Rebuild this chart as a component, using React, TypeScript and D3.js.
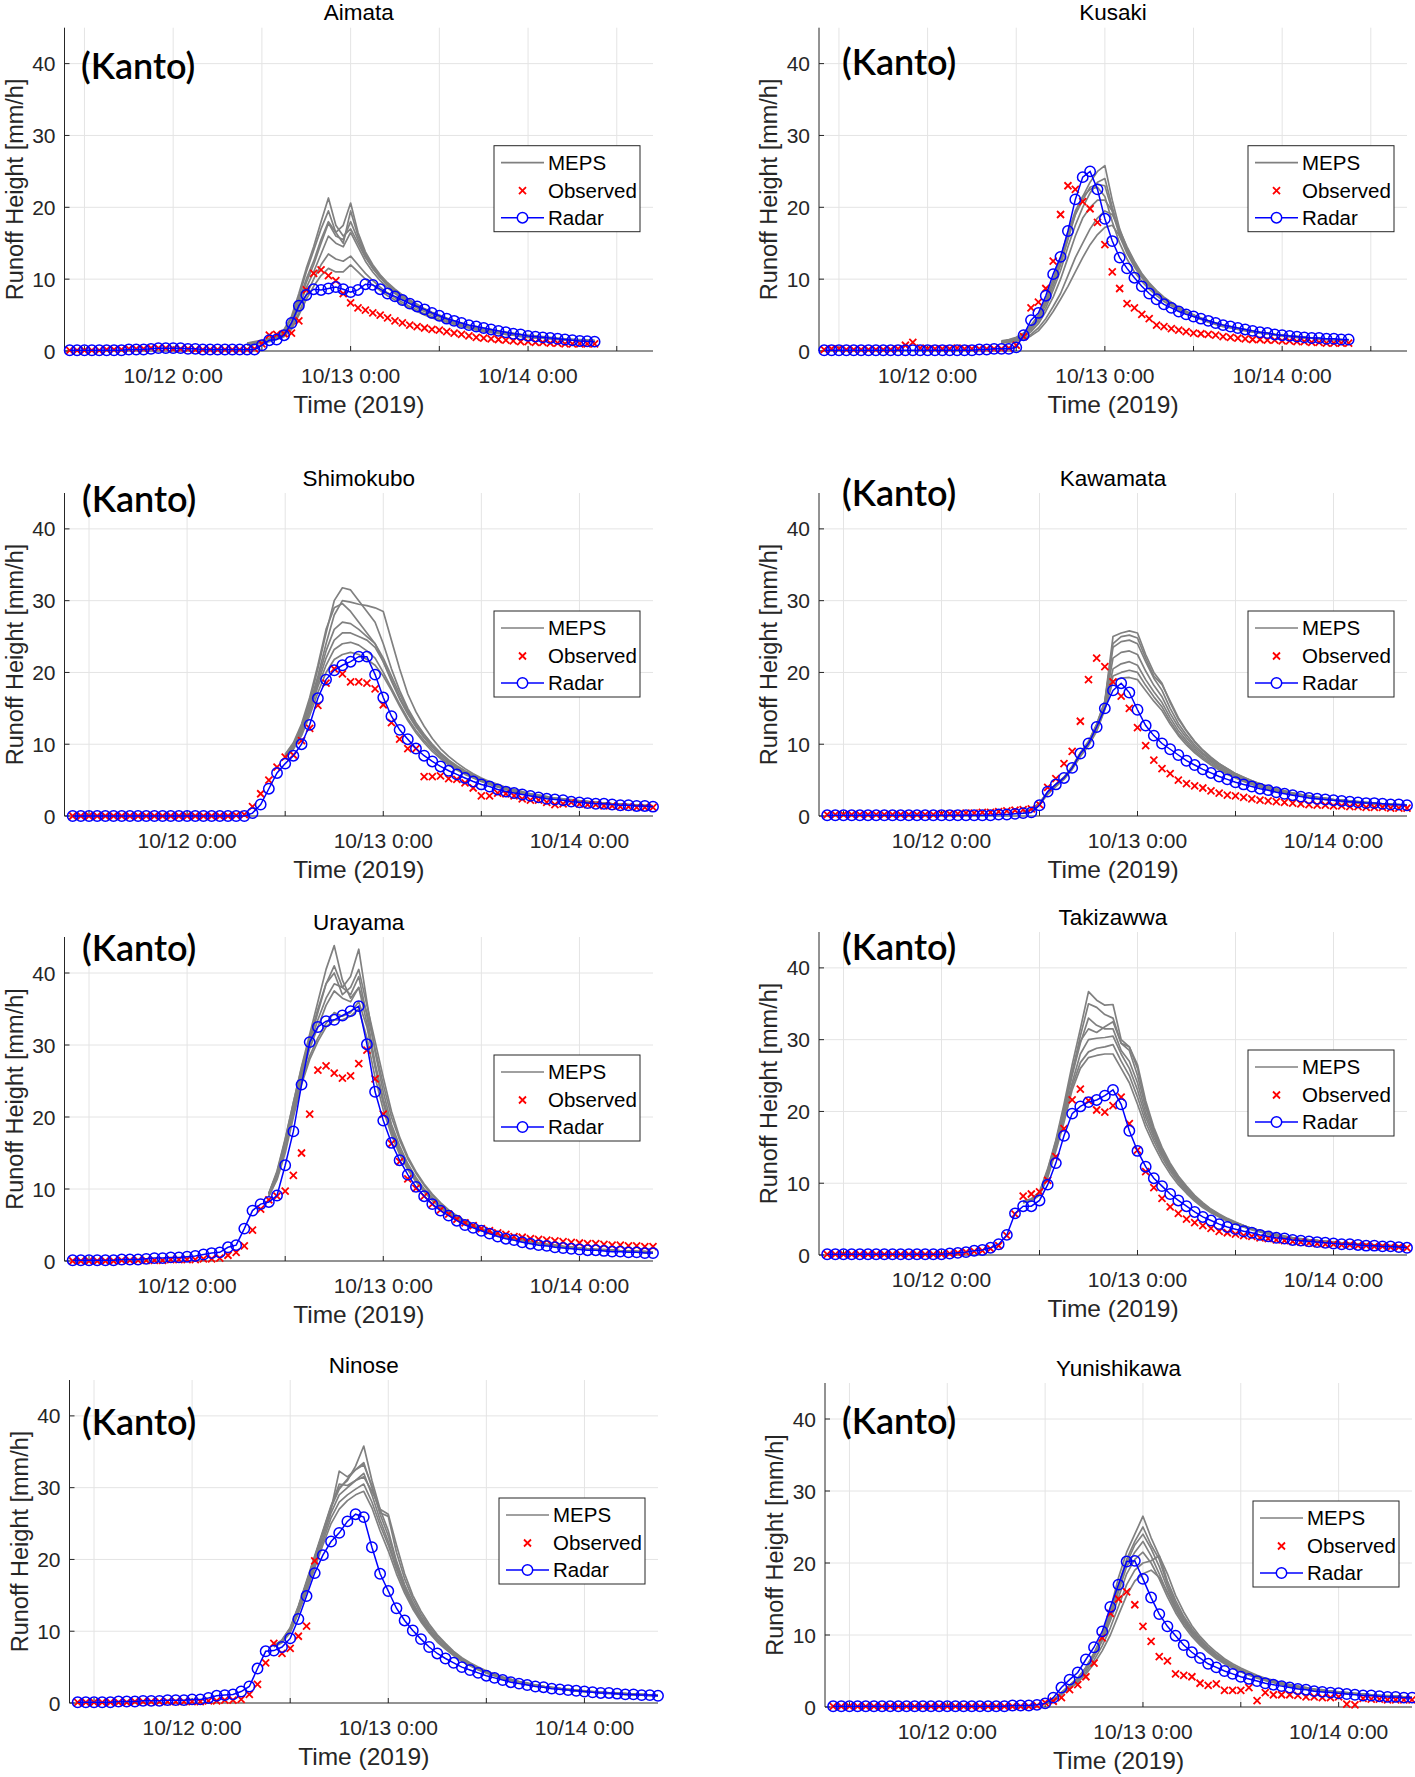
import React, { useEffect, useRef } from "react";
import * as d3 from "d3";

const W = 1415;
const H = 1777;

// hourly samples, first one is 10/11 10:00
const START = new Date(2019, 9, 11, 10);
const hourToDate = (h: number) => new Date(START.getTime() + h * 3600 * 1000);

const yTicks = [0, 10, 20, 30, 40];

// ---- Aimata ----
const radarAimata = [0.1,0.1,0.1,0.1,0.1,0.1,0.1,0.1,0.2,0.2, 0.2,0.3,0.4,0.4,0.4,0.4,0.3,0.3,0.2,0.2, 0.2,0.2,0.2,0.2,0.2,0.2,0.8,1.5,1.6,2.2, 3.9,6.3,7.8,8.6,8.5,8.7,8.9,8.6,8.2,8.5, 9.3,9.2,8.6,8.0,7.6,7.1,6.6,6.2,5.8,5.3, 4.9,4.5,4.2,3.9,3.6,3.4,3.2,3.0,2.8,2.6, 2.4,2.3,2.1,2.0,1.9,1.8,1.7,1.6,1.5,1.4, 1.35,1.3];
const obsAimata = [0.1,0.1,0.1,0.1,0.1,0.2,0.2,0.2,0.3,0.3, 0.3,0.4,0.4,0.4,0.3,0.3,0.3,0.2,0.2,0.2, 0.2,0.2,0.2,0.2,0.2,0.3,1.0,2.2,2.3,2.4, 2.5,4.2,8.5,10.8,11.3,10.5,9.8,8.0,6.7,6.0, 5.7,5.3,5.0,4.6,4.2,3.9,3.6,3.4,3.2,3.0, 2.9,2.7,2.5,2.3,2.1,1.9,1.8,1.7,1.6,1.5, 1.4,1.3,1.3,1.2,1.2,1.1,1.1,1.0,1.0,1.0, 1.0,1.0];
const mepsAimata = [
  [1.0,1.2,1.4,1.7,2.1,3.0,4.8,8.0,11.5,14.5,18.0, 21.3,17.5,16.0,17.0,15.0,13.0,11.5,10.3,9.3,8.4, 7.6,6.9,6.3,5.8,5.3,4.9,4.5,4.1,3.8,3.5, 3.3,3.1,2.9,2.7,2.5,2.4,2.3,2.1,2.0,1.9, 1.8,1.7,1.7,1.6,1.5,1.5,1.4],
  [1.1,1.3,1.5,1.8,2.0,2.6,4.0,7.0,10.0,12.5,15.5, 18.0,16.5,17.5,20.6,16.5,13.8,12.0,10.6,9.5,8.6, 7.8,7.1,6.5,5.9,5.4,5.0,4.6,4.2,3.9,3.6, 3.4,3.2,3.0,2.8,2.6,2.5,2.3,2.2,2.1,2.0, 1.9,1.8,1.7,1.6,1.6,1.5,1.5],
  [1.0,1.1,1.3,1.6,1.9,2.5,3.8,6.5,9.5,12.0,15.0, 17.8,16.0,15.5,18.0,15.5,13.2,11.5,10.2,9.1,8.2, 7.5,6.8,6.2,5.7,5.2,4.8,4.4,4.0,3.7,3.4, 3.2,3.0,2.8,2.6,2.5,2.3,2.2,2.1,2.0,1.9, 1.8,1.7,1.6,1.6,1.5,1.4,1.4],
  [0.9,1.0,1.2,1.5,1.8,2.3,3.5,6.0,8.8,11.0,13.5, 16.0,15.0,14.5,16.5,14.5,12.5,11.0,9.8,8.8,8.0, 7.3,6.6,6.0,5.5,5.1,4.7,4.3,3.9,3.6,3.4, 3.1,2.9,2.7,2.6,2.4,2.3,2.2,2.0,1.9,1.8, 1.8,1.7,1.6,1.5,1.5,1.4,1.3],
  [0.9,1.0,1.2,1.4,1.7,2.1,3.2,5.3,7.8,10.0,12.0, 13.5,12.8,12.5,13.2,12.0,10.8,9.8,8.9,8.1,7.4, 6.8,6.2,5.7,5.2,4.8,4.4,4.1,3.8,3.5,3.2, 3.0,2.8,2.6,2.5,2.3,2.2,2.1,2.0,1.9,1.8, 1.7,1.6,1.6,1.5,1.4,1.4,1.3],
  [0.8,0.9,1.1,1.3,1.6,2.0,3.0,5.0,7.2,9.0,10.5, 11.5,11.0,11.0,12.0,11.0,10.0,9.2,8.4,7.7,7.1, 6.5,6.0,5.5,5.0,4.6,4.3,4.0,3.7,3.4,3.2, 2.9,2.7,2.6,2.4,2.3,2.2,2.0,1.9,1.8,1.8, 1.7,1.6,1.5,1.5,1.4,1.4,1.3],
  [1.0,1.2,1.4,1.7,2.0,2.8,4.5,7.5,11.0,14.0,17.0, 19.5,16.5,15.0,19.5,16.0,13.5,11.8,10.5,9.4,8.5, 7.7,7.0,6.4,5.8,5.3,4.9,4.5,4.1,3.8,3.5, 3.3,3.1,2.9,2.7,2.6,2.4,2.3,2.1,2.0,1.9, 1.8,1.7,1.7,1.6,1.5,1.5,1.4],
];

// ---- Kusaki ----
const radarKusaki = [0.1,0.1,0.1,0.1,0.1,0.1,0.1,0.1,0.1,0.1, 0.1,0.1,0.1,0.1,0.1,0.1,0.1,0.1,0.1,0.1, 0.1,0.2,0.2,0.3,0.3,0.3,0.5,2.2,4.3,5.3, 7.7,10.7,13.1,16.7,21.1,24.2,25.0,22.5,18.4,15.3, 13.0,11.5,10.2,9.0,8.0,7.2,6.5,6.0,5.5,5.1, 4.8,4.5,4.2,3.9,3.6,3.4,3.2,3.0,2.8,2.6, 2.5,2.3,2.2,2.1,2.0,1.9,1.8,1.8,1.7,1.7, 1.6,1.6];
const obsKusaki = [0.2,0.3,0.3,0.2,0.2,0.2,0.2,0.2,0.2,0.2, 0.3,0.8,1.2,0.4,0.3,0.3,0.3,0.3,0.4,0.3, 0.3,0.3,0.3,0.3,0.3,0.4,0.8,2.0,6.0,6.8, 8.7,12.5,19.0,23.0,22.5,20.8,19.8,17.9,14.8,11.0, 8.7,6.6,6.0,5.1,4.5,3.6,3.4,3.1,2.9,2.7, 2.5,2.4,2.3,2.2,2.0,1.9,1.8,1.7,1.6,1.6, 1.5,1.5,1.4,1.4,1.3,1.3,1.2,1.2,1.1,1.1, 1.1,1.1];
const mepsKusaki = [
  [1.3,1.5,1.7,2.2,3.2,4.5,6.5,9.0,12.0,15.5,19.0, 21.5,23.5,25.0,25.8,21.0,17.0,14.3,12.3,10.7,9.4, 8.3,7.4,6.7,6.0,5.5,5.0,4.6,4.2,3.9,3.6, 3.4,3.2,3.0,2.8,2.6,2.5,2.3,2.2,2.1,2.0, 1.9,1.8,1.7,1.7,1.6,1.6,1.5],
  [1.3,1.4,1.6,2.0,3.0,4.2,6.0,8.5,11.2,14.5,17.5, 20.0,22.0,23.5,24.0,20.0,16.5,14.0,12.0,10.5,9.2, 8.1,7.3,6.6,5.9,5.4,4.9,4.5,4.1,3.8,3.5, 3.3,3.1,2.9,2.7,2.5,2.4,2.3,2.2,2.1,2.0, 1.9,1.8,1.7,1.6,1.6,1.5,1.5],
  [1.4,1.6,1.9,2.5,3.6,5.0,7.2,10.0,13.0,16.5,19.5, 21.5,22.5,22.8,21.5,18.0,15.0,12.8,11.0,9.7,8.6, 7.7,6.9,6.3,5.7,5.2,4.8,4.4,4.0,3.7,3.4, 3.2,3.0,2.8,2.7,2.5,2.4,2.2,2.1,2.0,1.9, 1.8,1.8,1.7,1.6,1.6,1.5,1.5],
  [1.2,1.3,1.5,1.9,2.7,3.8,5.5,7.5,10.0,13.0,16.0, 18.5,20.0,21.0,21.0,19.5,16.5,14.0,12.0,10.4,9.2, 8.2,7.3,6.6,6.0,5.4,5.0,4.5,4.2,3.8,3.5, 3.3,3.1,2.9,2.7,2.6,2.4,2.3,2.2,2.1,2.0, 1.9,1.8,1.7,1.7,1.6,1.5,1.5],
  [1.2,1.3,1.4,1.7,2.3,3.2,4.5,6.2,8.0,10.5,13.0, 15.0,17.0,18.5,19.5,19.0,16.8,14.5,12.5,10.8,9.5, 8.4,7.5,6.8,6.1,5.5,5.0,4.6,4.2,3.9,3.6, 3.4,3.1,2.9,2.8,2.6,2.5,2.3,2.2,2.1,2.0, 1.9,1.8,1.8,1.7,1.6,1.6,1.5],
  [1.1,1.2,1.4,1.6,2.1,2.8,4.0,5.5,7.2,9.0,11.0, 13.0,14.8,16.2,17.2,17.5,16.0,14.0,12.2,10.6,9.3, 8.2,7.4,6.7,6.0,5.5,5.0,4.6,4.2,3.9,3.6, 3.3,3.1,2.9,2.7,2.6,2.4,2.3,2.2,2.1,2.0, 1.9,1.8,1.7,1.7,1.6,1.5,1.5],
  [1.3,1.5,1.8,2.3,3.4,4.8,6.8,9.5,12.5,16.0,19.0, 21.0,22.8,23.2,23.0,19.5,16.0,13.6,11.7,10.2,9.0, 8.0,7.2,6.5,5.9,5.3,4.9,4.5,4.1,3.8,3.5, 3.3,3.1,2.9,2.7,2.5,2.4,2.3,2.1,2.0,1.9, 1.9,1.8,1.7,1.6,1.6,1.5,1.5],
];

// ---- Shimokubo ----
const radarShimokubo = [0,0,0,0,0,0,0,0,0,0, 0,0,0,0,0,0,0,0,0,0, 0,0,0.4,1.6,3.8,6.0,7.3,8.4,10.0,12.7, 16.4,19.0,20.3,21.0,21.5,22.2,22.2,19.7,16.5,13.9, 12.0,10.7,9.4,8.4,7.6,6.9,6.3,5.8,5.3,4.8, 4.4,4.1,3.7,3.4,3.2,3.0,2.8,2.6,2.4,2.3, 2.2,2.0,1.9,1.8,1.7,1.7,1.6,1.5,1.5,1.4, 1.4,1.3];
const obsShimokubo = [0,0,0,0,0,0,0,0,0,0, 0,0,0,0,0,0,0,0,0,0, 0.1,0.2,1.3,3.1,5.0,6.8,8.2,8.5,10.5,12.2, 15.4,18.5,20.5,19.8,18.7,18.7,18.5,17.7,15.5,13.0, 10.7,9.4,9.4,5.5,5.5,5.6,5.2,5.1,4.6,3.9, 2.8,2.8,3.2,3.1,2.8,2.4,2.2,2.2,1.9,1.6, 1.7,1.9,1.7,1.6,1.6,1.4,1.4,1.3,1.3,1.2, 1.2,1.2];
const mepsShimokubo = [
  [8.5,10.0,12.5,16.0,20.5,25.5,30.0,31.8,31.5,30.0, 28.5,27.0,24.0,20.5,17.5,15.0,13.0,11.4,10.0,8.8, 7.8,7.0,6.3,5.7,5.2,4.7,4.3,3.9,3.6,3.3, 3.1,2.9,2.7,2.5,2.4,2.2,2.1,2.0,1.9,1.8, 1.7,1.7,1.6,1.5,1.5,1.4],
  [8.5,10.0,12.3,15.5,19.5,24.0,28.0,30.0,29.8,29.5, 29.3,29.0,28.5,24.5,20.5,17.0,14.5,12.5,10.8,9.4, 8.3,7.4,6.6,5.9,5.3,4.8,4.4,4.0,3.7,3.4, 3.1,2.9,2.7,2.5,2.4,2.3,2.1,2.0,1.9,1.8, 1.7,1.7,1.6,1.5,1.5,1.4],
  [8.3,9.8,12.0,15.0,19.0,23.0,26.0,27.0,26.8,26.0, 25.0,24.0,22.0,19.5,17.0,14.8,12.9,11.3,9.9,8.7, 7.7,6.9,6.2,5.6,5.1,4.6,4.2,3.9,3.5,3.3, 3.0,2.8,2.6,2.5,2.3,2.2,2.1,2.0,1.9,1.8, 1.7,1.6,1.6,1.5,1.4,1.4],
  [8.2,9.6,11.8,14.8,18.5,22.0,24.5,25.5,25.5,25.0, 24.5,23.5,21.5,19.0,16.5,14.5,12.6,11.0,9.7,8.6, 7.6,6.8,6.1,5.5,5.0,4.6,4.2,3.8,3.5,3.2, 3.0,2.8,2.6,2.4,2.3,2.2,2.1,2.0,1.9,1.8, 1.7,1.6,1.5,1.5,1.4,1.4],
  [8.0,9.5,11.5,14.5,18.0,21.0,23.2,24.0,24.2,23.8, 23.0,22.0,20.0,17.8,15.6,13.6,11.9,10.5,9.3,8.2, 7.3,6.6,5.9,5.4,4.9,4.5,4.1,3.7,3.4,3.2, 2.9,2.7,2.6,2.4,2.3,2.2,2.0,1.9,1.8,1.8, 1.7,1.6,1.5,1.5,1.4,1.3],
  [8.0,9.3,11.2,14.0,17.2,20.0,21.8,22.5,22.8,22.5, 21.8,21.0,19.5,17.5,15.3,13.3,11.6,10.2,9.0,8.0, 7.1,6.4,5.8,5.3,4.8,4.4,4.0,3.7,3.4,3.1, 2.9,2.7,2.5,2.4,2.2,2.1,2.0,1.9,1.8,1.7, 1.7,1.6,1.5,1.4,1.4,1.3],
  [8.6,10.2,12.8,16.5,21.0,26.0,29.0,29.6,28.5,27.0, 25.5,24.0,21.5,18.8,16.3,14.2,12.4,10.9,9.6,8.5, 7.5,6.7,6.0,5.4,4.9,4.5,4.1,3.8,3.4,3.2, 2.9,2.7,2.6,2.4,2.3,2.2,2.0,1.9,1.8,1.8, 1.7,1.6,1.5,1.5,1.4,1.3],
];

// ---- Kawamata ----
const radarKawamata = [0.1,0.1,0.1,0.1,0.1,0.1,0.1,0.1,0.1,0.1, 0.1,0.1,0.1,0.1,0.1,0.1,0.1,0.1,0.1,0.1, 0.1,0.2,0.2,0.3,0.4,0.5,1.5,3.4,4.4,5.3, 6.7,8.7,10.1,12.4,15.0,17.5,18.5,17.2,14.8,12.6, 11.2,10.1,9.3,8.5,7.7,7.1,6.5,6.0,5.5,5.1, 4.7,4.4,4.1,3.8,3.6,3.3,3.1,2.9,2.7,2.5, 2.4,2.3,2.2,2.1,2.0,1.9,1.8,1.8,1.7,1.6, 1.6,1.5];
const obsKawamata = [0.2,0.2,0.2,0.2,0.2,0.2,0.2,0.2,0.2,0.2, 0.2,0.2,0.2,0.2,0.3,0.3,0.3,0.4,0.4,0.5, 0.5,0.6,0.7,0.8,0.9,1.0,1.6,4.0,5.2,7.3, 9.0,13.2,19.0,22.0,20.8,18.7,16.7,15.0,12.3,9.8, 7.8,6.6,5.9,5.0,4.5,4.2,3.9,3.5,3.2,2.9, 2.8,2.6,2.4,2.2,2.1,2.0,1.9,1.8,1.7,1.6, 1.5,1.5,1.4,1.4,1.3,1.3,1.2,1.2,1.2,1.1, 1.1,1.1];
const mepsKawamata = [
  [0.6,0.9,1.8,3.3,4.4,5.4,6.9,8.8,10.4,12.8,16.0, 25.0,25.5,25.8,25.5,22.5,20.0,18.5,15.8,13.5,11.8, 10.3,9.1,8.1,7.3,6.6,5.9,5.4,4.9,4.5,4.1, 3.8,3.5,3.2,3.0,2.8,2.6,2.5,2.3,2.2,2.1, 2.0,1.9,1.8,1.7,1.6,1.6,1.5],
  [0.6,0.9,1.8,3.3,4.4,5.4,6.8,8.7,10.2,12.6,15.8, 23.5,24.3,24.5,24.0,21.5,19.2,17.5,15.0,12.9,11.3, 9.9,8.8,7.9,7.1,6.4,5.8,5.3,4.8,4.4,4.0, 3.7,3.4,3.2,3.0,2.8,2.6,2.4,2.3,2.2,2.0, 1.9,1.8,1.8,1.7,1.6,1.5,1.5],
  [0.6,0.9,1.7,3.2,4.3,5.3,6.7,8.6,10.1,12.4,15.5, 22.0,22.8,23.0,22.5,20.2,18.2,16.6,14.3,12.4,10.9, 9.6,8.6,7.7,6.9,6.2,5.6,5.1,4.7,4.3,3.9, 3.6,3.4,3.1,2.9,2.7,2.5,2.4,2.2,2.1,2.0, 1.9,1.8,1.7,1.6,1.6,1.5,1.5],
  [0.6,0.9,1.7,3.2,4.3,5.3,6.7,8.5,10.0,12.2,15.2, 20.5,21.2,21.5,21.0,19.0,17.3,15.8,13.7,11.9,10.5, 9.3,8.3,7.5,6.7,6.1,5.5,5.0,4.6,4.2,3.8, 3.5,3.3,3.0,2.8,2.7,2.5,2.3,2.2,2.1,2.0, 1.9,1.8,1.7,1.6,1.5,1.5,1.4],
  [0.6,0.9,1.7,3.1,4.2,5.2,6.6,8.4,9.9,12.0,15.0, 19.5,20.0,20.3,20.0,18.2,16.6,15.2,13.2,11.5,10.2, 9.0,8.1,7.3,6.6,5.9,5.4,4.9,4.5,4.1,3.8, 3.5,3.2,3.0,2.8,2.6,2.4,2.3,2.2,2.1,2.0, 1.9,1.8,1.7,1.6,1.5,1.5,1.4],
  [0.6,0.8,1.6,3.0,4.1,5.1,6.5,8.3,9.8,11.8,14.8, 18.8,19.2,19.3,19.0,17.5,16.0,14.7,12.8,11.2,9.9, 8.8,7.9,7.1,6.4,5.8,5.3,4.8,4.4,4.0,3.7, 3.4,3.2,3.0,2.8,2.6,2.4,2.3,2.2,2.0,1.9, 1.8,1.8,1.7,1.6,1.5,1.5,1.4],
  [0.6,0.9,1.8,3.3,4.4,5.4,6.9,8.8,10.3,12.7,15.9, 24.0,25.0,25.2,24.8,22.0,19.5,18.3,16.0,13.7,11.9, 10.4,9.2,8.2,7.3,6.6,5.9,5.4,4.9,4.5,4.1, 3.8,3.5,3.2,3.0,2.8,2.6,2.5,2.3,2.2,2.1, 2.0,1.9,1.8,1.7,1.7,1.6,1.5],
];

// ---- Urayama ----
const radarUrayama = [0.1,0.1,0.1,0.1,0.1,0.1,0.2,0.2,0.2,0.3, 0.4,0.4,0.5,0.5,0.6,0.7,0.9,1.1,1.2,1.9, 2.2,4.5,7.0,7.9,8.2,9.1,13.3,18.0,24.5,30.4, 32.5,33.3,33.5,34.1,34.7,35.4,30.1,23.5,19.5,16.4, 14.0,12.0,10.3,9.0,7.9,7.0,6.3,5.6,5.0,4.6, 4.2,3.8,3.4,3.1,2.9,2.6,2.4,2.2,2.1,1.9, 1.8,1.7,1.6,1.5,1.5,1.4,1.3,1.3,1.2,1.2, 1.1,1.1];
const obsUrayama = [0,0,0,0,0,0,0.1,0.1,0.1,0.1, 0.1,0.1,0.2,0.2,0.2,0.2,0.3,0.3,0.4,0.8, 1.2,2.1,4.3,7.2,8.5,9.0,9.7,11.9,15.0,20.4, 26.5,27.1,26.1,25.4,25.7,27.4,29.3,25.3,20.4,16.3, 13.8,11.4,10.1,9.0,7.9,7.1,6.5,5.8,5.3,4.9, 4.5,4.2,3.9,3.7,3.4,3.3,3.1,3.0,2.9,2.8, 2.7,2.6,2.5,2.4,2.4,2.3,2.2,2.2,2.1,2.1, 2.0,2.0];
const mepsUrayama = [
  [9.4,12.5,17.0,22.0,27.0,31.5,36.0,40.5,43.8,39.0,36.5, 38.0,33.0,27.0,22.0,18.0,15.2,13.0,11.2,9.7,8.5, 7.5,6.6,5.9,5.3,4.8,4.3,3.9,3.6,3.3,3.0, 2.8,2.6,2.4,2.2,2.1,2.0,1.9,1.8,1.7,1.6, 1.5,1.5,1.4,1.4,1.3,1.3,1.2],
  [9.4,12.2,16.5,21.5,26.0,30.0,33.5,36.5,38.5,38.0,39.5, 43.3,36.0,29.0,23.5,19.0,16.0,13.5,11.6,10.0,8.8, 7.7,6.8,6.0,5.4,4.9,4.4,4.0,3.7,3.3,3.1, 2.8,2.6,2.4,2.3,2.1,2.0,1.9,1.8,1.7,1.6, 1.5,1.5,1.4,1.4,1.3,1.3,1.2],
  [9.3,12.0,16.5,21.5,26.5,30.5,34.5,38.5,41.0,38.0,37.0, 39.5,34.0,27.5,22.5,18.5,15.5,13.2,11.4,9.9,8.7, 7.6,6.7,6.0,5.3,4.8,4.3,3.9,3.6,3.3,3.0, 2.8,2.6,2.4,2.2,2.1,2.0,1.9,1.8,1.7,1.6, 1.5,1.5,1.4,1.3,1.3,1.2,1.2],
  [9.2,11.8,16.0,21.0,25.5,29.5,32.5,35.5,37.5,36.5,36.0, 38.0,34.5,29.5,24.5,20.0,16.8,14.2,12.2,10.5,9.1, 8.0,7.0,6.2,5.5,5.0,4.5,4.1,3.7,3.4,3.1, 2.9,2.7,2.5,2.3,2.2,2.0,1.9,1.8,1.7,1.6, 1.6,1.5,1.4,1.4,1.3,1.3,1.2],
  [9.0,11.5,15.5,20.5,25.0,28.5,31.0,33.0,34.5,34.0,34.5, 36.0,32.5,27.0,22.0,18.2,15.4,13.2,11.4,9.9,8.7, 7.6,6.7,6.0,5.3,4.8,4.3,3.9,3.6,3.3,3.0, 2.8,2.6,2.4,2.2,2.1,2.0,1.9,1.8,1.7,1.6, 1.5,1.4,1.4,1.3,1.3,1.2,1.2],
  [9.0,11.3,15.0,20.0,24.5,28.0,30.5,32.5,33.5,33.5,34.0, 35.0,31.0,25.5,21.0,17.5,14.8,12.7,11.0,9.6,8.4, 7.4,6.5,5.8,5.2,4.7,4.2,3.8,3.5,3.2,2.9, 2.7,2.5,2.3,2.2,2.0,1.9,1.8,1.7,1.6,1.6, 1.5,1.4,1.4,1.3,1.3,1.2,1.1],
  [9.3,12.3,16.8,22.0,26.8,31.0,35.0,38.5,40.0,37.0,38.0, 40.5,35.5,30.5,25.5,20.8,17.2,14.5,12.4,10.7,9.3, 8.1,7.1,6.3,5.6,5.0,4.5,4.1,3.7,3.4,3.1, 2.9,2.7,2.5,2.3,2.2,2.0,1.9,1.8,1.7,1.6, 1.6,1.5,1.4,1.4,1.3,1.3,1.2],
];

// ---- Takizawwa ----
const radarTakizawwa = [0.1,0.1,0.1,0.1,0.1,0.1,0.1,0.1,0.1,0.1, 0.1,0.1,0.1,0.1,0.1,0.2,0.3,0.4,0.6,0.7, 1.0,1.5,2.8,5.8,6.8,6.8,7.6,9.8,12.8,16.6, 19.7,20.7,21.3,21.6,22.2,23.0,21.0,17.3,14.5,12.3, 10.7,9.6,8.5,7.6,6.8,6.0,5.3,4.8,4.3,3.9, 3.6,3.3,3.1,2.8,2.6,2.4,2.3,2.1,2.0,1.9, 1.8,1.7,1.6,1.5,1.5,1.4,1.3,1.3,1.2,1.2, 1.1,1.0];
const obsTakizawwa = [0.1,0.1,0.1,0.1,0.1,0.1,0.1,0.1,0.1,0.1, 0.1,0.1,0.1,0.1,0.1,0.2,0.3,0.4,0.5,0.6, 0.9,1.3,2.7,5.7,8.2,8.5,8.8,10.4,13.7,17.6, 21.6,23.1,21.5,20.2,19.9,20.8,22.0,18.3,14.6,11.6, 9.4,7.9,6.7,5.8,5.0,4.5,4.1,3.7,3.3,3.1, 2.9,2.7,2.6,2.4,2.3,2.1,2.0,1.9,1.8,1.7, 1.6,1.5,1.5,1.4,1.4,1.3,1.3,1.2,1.2,1.1, 1.1,1.0];
const mepsTakizawwa = [
  [7.5,7.8,8.8,12.0,16.0,21.0,26.5,31.5,36.7,35.5,34.8, 34.9,30.0,29.0,26.0,21.0,17.5,14.8,12.6,10.9,9.4, 8.2,7.2,6.3,5.6,5.0,4.5,4.1,3.7,3.4,3.1, 2.8,2.6,2.4,2.2,2.1,2.0,1.9,1.8,1.7,1.6, 1.5,1.5,1.4,1.3,1.3,1.2,1.1],
  [7.5,7.8,8.7,11.8,15.8,20.5,25.5,30.5,35.0,34.5,33.5, 33.0,29.5,28.5,25.0,20.5,17.2,14.5,12.4,10.7,9.3, 8.1,7.1,6.3,5.6,5.0,4.5,4.1,3.7,3.4,3.1, 2.8,2.6,2.4,2.2,2.1,2.0,1.9,1.8,1.7,1.6, 1.5,1.4,1.4,1.3,1.2,1.2,1.1],
  [7.4,7.7,8.6,11.5,15.5,20.0,25.0,29.5,33.0,32.0,31.5, 31.5,28.5,27.0,24.0,19.8,16.8,14.2,12.2,10.5,9.1, 8.0,7.0,6.2,5.5,4.9,4.4,4.0,3.6,3.3,3.0, 2.8,2.6,2.4,2.2,2.1,2.0,1.9,1.8,1.7,1.6, 1.5,1.4,1.3,1.3,1.2,1.2,1.1],
  [7.4,7.7,8.5,11.3,15.0,19.5,24.0,28.0,30.0,30.2,30.3, 30.5,28.0,26.0,23.0,19.2,16.4,14.0,12.0,10.4,9.0, 7.9,7.0,6.2,5.5,4.9,4.4,4.0,3.6,3.3,3.0, 2.7,2.5,2.4,2.2,2.1,2.0,1.8,1.7,1.7,1.6, 1.5,1.4,1.3,1.3,1.2,1.2,1.1],
  [7.3,7.6,8.4,11.0,14.8,19.0,23.5,26.8,28.3,28.8,29.0, 29.3,27.0,25.0,22.0,18.5,15.9,13.6,11.7,10.1,8.8, 7.7,6.8,6.0,5.4,4.8,4.3,3.9,3.6,3.3,3.0, 2.7,2.5,2.3,2.2,2.0,1.9,1.8,1.7,1.6,1.6, 1.5,1.4,1.3,1.3,1.2,1.1,1.1],
  [7.3,7.5,8.3,10.8,14.5,18.5,23.0,26.0,27.5,27.8,28.0, 28.0,26.0,24.0,21.0,17.8,15.3,13.1,11.3,9.8,8.6, 7.5,6.6,5.9,5.3,4.7,4.3,3.9,3.5,3.2,2.9, 2.7,2.5,2.3,2.1,2.0,1.9,1.8,1.7,1.6,1.5, 1.5,1.4,1.3,1.2,1.2,1.1,1.1],
  [7.4,7.7,8.6,11.6,15.5,20.3,25.5,29.8,31.5,31.0,31.8, 32.5,29.5,29.0,26.5,21.5,17.8,15.0,12.8,11.0,9.6, 8.3,7.3,6.4,5.7,5.1,4.6,4.1,3.7,3.4,3.1, 2.9,2.6,2.4,2.3,2.1,2.0,1.9,1.8,1.7,1.6, 1.5,1.5,1.4,1.3,1.3,1.2,1.1],
];

// ---- Ninose ----
const radarNinose = [0.1,0.1,0.1,0.1,0.1,0.2,0.2,0.2,0.3,0.3, 0.3,0.4,0.4,0.4,0.5,0.5,0.7,1.0,1.1,1.2, 1.6,2.3,4.8,7.2,7.3,7.8,9.0,11.7,14.9,18.1, 20.6,22.5,23.7,25.3,26.3,25.9,21.7,18.0,15.6,13.2, 11.5,10.1,8.9,7.8,6.9,6.2,5.6,5.0,4.6,4.2, 3.8,3.5,3.2,2.9,2.7,2.5,2.3,2.2,2.0,1.9, 1.8,1.7,1.6,1.5,1.4,1.4,1.3,1.2,1.2,1.1, 1.1,1.0];
const obsNinose = [0.1,0.1,0.1,0.1,0.1,0.1,0.1,0.2,0.2,0.2, 0.2,0.2,0.2,0.2,0.2,0.2,0.3,0.3,0.4,0.4, 0.5,1.2,2.6,5.6,8.3,6.9,7.6,9.3,10.7,19.8, null,null,null,null,null,null,null,null,null,null, null,null,null,null,null,null,null,null,null,null, null,null,null,null,null,null,null,null,null,null, null,null,null,null,null,null,null,null,null,null, null,null];
const mepsNinose = [
  [8.0,8.8,10.5,13.5,17.0,20.5,24.0,27.5,30.0,31.0,33.0, 35.8,31.0,27.0,24.0,19.8,16.5,14.0,12.0,10.4,9.0, 7.9,6.9,6.1,5.4,4.8,4.3,3.9,3.5,3.2,2.9, 2.7,2.5,2.3,2.1,2.0,1.9,1.7,1.6,1.5,1.5, 1.4,1.3,1.3,1.2,1.2,1.1,1.1],
  [8.0,8.7,10.3,13.2,16.5,20.0,23.5,27.0,32.3,31.5,32.5, 33.5,30.0,26.5,26.0,21.0,17.3,14.5,12.4,10.7,9.3, 8.1,7.1,6.2,5.5,4.9,4.4,4.0,3.6,3.3,3.0, 2.7,2.5,2.3,2.1,2.0,1.9,1.8,1.7,1.6,1.5, 1.4,1.3,1.3,1.2,1.2,1.1,1.1],
  [7.9,8.6,10.2,13.0,16.2,19.6,23.0,26.5,29.0,30.0,31.0, 32.0,29.0,25.5,22.5,19.0,16.0,13.6,11.7,10.1,8.8, 7.7,6.8,6.0,5.3,4.7,4.3,3.9,3.5,3.2,2.9, 2.7,2.5,2.3,2.1,2.0,1.8,1.7,1.6,1.5,1.5, 1.4,1.3,1.2,1.2,1.1,1.1,1.0],
  [7.9,8.5,10.0,12.8,15.8,19.2,22.5,25.8,28.0,29.0,29.8, 30.5,28.0,24.8,22.0,18.6,15.7,13.4,11.5,10.0,8.7, 7.6,6.7,5.9,5.3,4.7,4.2,3.8,3.5,3.1,2.9, 2.6,2.4,2.3,2.1,2.0,1.8,1.7,1.6,1.5,1.4, 1.4,1.3,1.2,1.2,1.1,1.1,1.0],
  [7.8,8.4,9.8,12.5,15.5,18.8,22.0,25.0,27.0,28.2,29.0, 29.5,27.2,24.0,21.2,18.0,15.3,13.1,11.3,9.8,8.5, 7.5,6.6,5.8,5.2,4.6,4.2,3.8,3.4,3.1,2.8, 2.6,2.4,2.2,2.1,1.9,1.8,1.7,1.6,1.5,1.4, 1.3,1.3,1.2,1.1,1.1,1.0,1.0],
  [7.9,8.6,10.3,13.3,16.8,20.3,23.8,27.3,30.5,30.3,31.0, 31.5,29.5,27.0,26.3,22.0,18.0,15.0,12.8,11.0,9.5, 8.3,7.2,6.3,5.6,5.0,4.5,4.0,3.6,3.3,3.0, 2.8,2.5,2.3,2.2,2.0,1.9,1.8,1.7,1.6,1.5, 1.4,1.4,1.3,1.2,1.2,1.1,1.1],
  [8.0,8.7,10.4,13.4,16.8,20.3,23.8,27.2,29.8,31.2,32.5, 33.2,30.3,26.3,23.3,19.5,16.3,13.8,11.8,10.2,8.9, 7.8,6.9,6.1,5.4,4.8,4.3,3.9,3.5,3.2,2.9, 2.7,2.5,2.3,2.1,2.0,1.8,1.7,1.6,1.5,1.5, 1.4,1.3,1.3,1.2,1.1,1.1,1.0],
];

// ---- Yunishikawa ----
const radarYunishikawa = [0.1,0.1,0.1,0.1,0.1,0.1,0.1,0.1,0.1,0.1, 0.1,0.1,0.1,0.1,0.1,0.1,0.1,0.1,0.1,0.1, 0.1,0.1,0.2,0.2,0.2,0.3,0.5,1.3,2.7,3.8, 4.8,6.6,8.3,10.5,13.9,17.0,20.2,20.3,17.8,15.2, 12.9,11.2,9.9,8.6,7.6,6.8,6.0,5.5,5.0,4.6, 4.2,3.9,3.6,3.3,3.1,2.9,2.7,2.5,2.4,2.2, 2.1,2.0,1.9,1.8,1.7,1.6,1.6,1.5,1.4,1.4, 1.3,1.3];
const obsYunishikawa = [0.1,0.1,0.1,0.1,0.1,0.1,0.1,0.1,0.1,0.1, 0.1,0.1,0.1,0.1,0.1,0.1,0.1,0.1,0.1,0.1, 0.1,0.1,0.1,0.1,0.1,0.2,0.6,0.8,1.3,2.4, 3.1,4.2,6.1,9.6,13.0,15.0,16.0,14.2,11.2,9.1, 7.0,6.4,4.6,4.4,4.2,3.3,3.0,3.2,2.3,2.3, 2.3,2.7,0.9,2.0,1.7,1.7,1.7,1.6,1.4,1.4, 1.3,1.3,1.4,0.4,0.3,1.2,1.1,1.1,1.0,1.0, 1.0,1.0];
const mepsYunishikawa = [
  [0.4,1.0,2.0,3.0,4.0,5.5,7.5,10.0,13.5,18.0, 21.5,24.0,26.5,23.5,21.0,17.5,14.8,12.6,10.9,9.5, 8.3,7.3,6.5,5.8,5.2,4.7,4.3,3.9,3.6,3.3, 3.1,2.9,2.7,2.5,2.3,2.2,2.1,2.0,1.9,1.8, 1.7,1.6,1.5,1.5,1.4,1.4],
  [0.4,1.0,2.0,3.0,4.0,5.5,7.4,9.8,13.0,17.0, 20.5,23.0,25.0,22.5,20.5,17.0,14.4,12.3,10.6,9.3, 8.1,7.2,6.4,5.7,5.1,4.6,4.2,3.8,3.5,3.2, 3.0,2.8,2.6,2.4,2.3,2.2,2.0,1.9,1.8,1.8, 1.7,1.6,1.5,1.5,1.4,1.3],
  [0.4,0.9,1.9,2.9,3.9,5.3,7.2,9.5,12.5,16.0, 19.5,21.5,23.0,21.0,18.5,15.8,13.5,11.6,10.1,8.8, 7.7,6.9,6.1,5.5,4.9,4.5,4.1,3.7,3.4,3.1, 2.9,2.7,2.5,2.4,2.2,2.1,2.0,1.9,1.8,1.7, 1.6,1.6,1.5,1.4,1.4,1.3],
  [0.4,0.9,1.9,2.8,3.8,5.2,7.0,9.2,12.0,15.2, 18.5,20.5,21.5,20.0,17.8,15.3,13.1,11.3,9.8,8.6, 7.6,6.7,6.0,5.4,4.9,4.4,4.0,3.7,3.4,3.1, 2.9,2.7,2.5,2.3,2.2,2.1,2.0,1.9,1.8,1.7, 1.6,1.5,1.5,1.4,1.3,1.3],
  [0.4,0.9,1.8,2.7,3.6,4.9,6.5,8.5,11.0,14.0, 17.0,19.0,20.0,20.3,21.0,18.5,15.5,13.2,11.3,9.8, 8.6,7.6,6.7,6.0,5.4,4.9,4.4,4.0,3.7,3.4, 3.1,2.9,2.7,2.5,2.4,2.2,2.1,2.0,1.9,1.8, 1.7,1.6,1.6,1.5,1.4,1.4],
  [0.4,0.8,1.7,2.6,3.4,4.6,6.0,7.8,10.0,12.8, 15.5,17.5,18.5,19.0,18.0,16.0,13.8,11.9,10.3,9.0, 7.9,7.0,6.2,5.6,5.0,4.5,4.1,3.8,3.5,3.2, 2.9,2.7,2.6,2.4,2.3,2.1,2.0,1.9,1.8,1.7, 1.6,1.6,1.5,1.4,1.4,1.3],
  [0.4,1.0,2.0,3.0,4.0,5.4,7.3,9.7,12.8,16.5, 20.0,22.5,24.0,22.0,19.5,16.5,14.0,12.0,10.4,9.1, 8.0,7.1,6.3,5.6,5.1,4.6,4.2,3.8,3.5,3.2, 3.0,2.8,2.6,2.4,2.3,2.2,2.0,1.9,1.8,1.8, 1.7,1.6,1.5,1.5,1.4,1.3],
];

// panel placement (plot area in px, hour range of x axis)
const panels = [
  { name: "Aimata", radar: radarAimata, obs: obsAimata, meps: mepsAimata, mepsStart: 24, x0: 64.5, x1: 653, y0: 27.7, y1: 351, t0: -0.7, t1: 78.9, kx: 81, ky: 79 },
  { name: "Kusaki", radar: radarKusaki, obs: obsKusaki, meps: mepsKusaki, mepsStart: 24, x0: 819, x1: 1407, y0: 27.7, y1: 351, t0: -0.7, t1: 78.9, kx: 842, ky: 75 },
  { name: "Shimokubo", radar: radarShimokubo, obs: obsShimokubo, meps: mepsShimokubo, mepsStart: 26, x0: 64.5, x1: 653, y0: 493, y1: 816, t0: -1, t1: 71, kx: 82, ky: 512 },
  { name: "Kawamata", radar: radarKawamata, obs: obsKawamata, meps: mepsKawamata, mepsStart: 24, x0: 819, x1: 1407, y0: 493, y1: 816, t0: -1, t1: 71, kx: 842, ky: 506 },
  { name: "Urayama", radar: radarUrayama, obs: obsUrayama, meps: mepsUrayama, mepsStart: 24, x0: 64.5, x1: 653, y0: 937, y1: 1261, t0: -1, t1: 71, kx: 82, ky: 961 },
  { name: "Takizawwa", radar: radarTakizawwa, obs: obsTakizawwa, meps: mepsTakizawwa, mepsStart: 24, x0: 819, x1: 1407, y0: 932, y1: 1255, t0: -1, t1: 71, kx: 842, ky: 960 },
  { name: "Ninose", radar: radarNinose, obs: obsNinose, meps: mepsNinose, mepsStart: 24, x0: 69.5, x1: 658, y0: 1380, y1: 1703, t0: -1, t1: 71, kx: 82, ky: 1435 },
  { name: "Yunishikawa", radar: radarYunishikawa, obs: obsYunishikawa, meps: mepsYunishikawa, mepsStart: 26, x0: 825, x1: 1412, y0: 1383, y1: 1707, t0: -1, t1: 71, kx: 842, ky: 1434 },
];

const FONT = "'Liberation Sans', Arial, sans-serif";
const AXIS = "#262626";
const GRID = "#e4e4e4";
const GRAY = "#808080";
const BLUE = "#0000ff";
const RED = "#ff0000";

function drawPanel(svg: any, p: any) {
  const x = d3.scaleTime().domain([hourToDate(p.t0), hourToDate(p.t1)]).range([p.x0, p.x1]);
  const y = d3.scaleLinear().domain([0, 45]).range([p.y1, p.y0]);
  const g = svg.append("g");
  const xt = x.ticks(d3.timeHour.every(12));

  // grid
  g.selectAll(".vgrid").data(xt).join("line").attr("class", "vgrid")
    .attr("x1", (d: Date) => x(d)).attr("x2", (d: Date) => x(d))
    .attr("y1", p.y0).attr("y2", p.y1)
    .attr("stroke", GRID).attr("stroke-width", 1);
  g.selectAll(".hgrid").data(yTicks.slice(1)).join("line").attr("class", "hgrid")
    .attr("x1", p.x0).attr("x2", p.x1)
    .attr("y1", (d: number) => y(d)).attr("y2", (d: number) => y(d))
    .attr("stroke", GRID).attr("stroke-width", 1);

  // axes lines + inward ticks
  g.append("line").attr("x1", p.x0).attr("x2", p.x0).attr("y1", p.y0).attr("y2", p.y1).attr("stroke", AXIS);
  g.append("line").attr("x1", p.x0).attr("x2", p.x1).attr("y1", p.y1).attr("y2", p.y1).attr("stroke", AXIS);
  g.selectAll(".xtick").data(xt).join("line").attr("class", "xtick")
    .attr("x1", (d: Date) => x(d)).attr("x2", (d: Date) => x(d))
    .attr("y1", p.y1).attr("y2", p.y1 - 5).attr("stroke", AXIS);
  g.selectAll(".ytick").data(yTicks).join("line").attr("class", "ytick")
    .attr("x1", p.x0).attr("x2", p.x0 + 5)
    .attr("y1", (d: number) => y(d)).attr("y2", (d: number) => y(d)).attr("stroke", AXIS);

  // tick labels
  const fmt = d3.timeFormat("%-m/%-d %-H:%M");
  g.selectAll(".xlab").data(xt.filter((d: Date) => d.getHours() === 0)).join("text").attr("class", "xlab")
    .attr("x", (d: Date) => x(d)).attr("y", p.y1 + 32)
    .attr("text-anchor", "middle").attr("font-family", FONT).attr("font-size", 21).attr("fill", AXIS)
    .text((d: Date) => fmt(d));
  g.selectAll(".ylab").data(yTicks).join("text").attr("class", "ylab")
    .attr("x", p.x0 - 9).attr("y", (d: number) => y(d)).attr("dy", "0.36em")
    .attr("text-anchor", "end").attr("font-family", FONT).attr("font-size", 21).attr("fill", AXIS)
    .text((d: number) => d);

  // axis titles
  g.append("text").attr("x", (p.x0 + p.x1) / 2).attr("y", p.y1 + 62)
    .attr("text-anchor", "middle").attr("font-family", FONT).attr("font-size", 24.5).attr("fill", AXIS)
    .text("Time (2019)");
  const ym = (p.y0 + p.y1) / 2;
  g.append("text").attr("transform", `translate(${p.x0 - 42},${ym}) rotate(-90)`)
    .attr("text-anchor", "middle").attr("font-family", FONT).attr("font-size", 23.5).attr("fill", AXIS)
    .text("Runoff Height [mm/h]");
  g.append("text").attr("x", (p.x0 + p.x1) / 2).attr("y", p.y0 - 7.5)
    .attr("text-anchor", "middle").attr("font-family", FONT).attr("font-size", 22.5).attr("fill", "#000")
    .text(p.name);

  // MEPS ensemble
  const line = d3.line<number>()
    .x((_d, i) => x(hourToDate(p.mepsStart + i)))
    .y((d) => y(d));
  g.selectAll(".meps").data(p.meps).join("path").attr("class", "meps")
    .attr("d", (d: number[]) => line(d))
    .attr("fill", "none").attr("stroke", GRAY).attr("stroke-width", 1.7)
    .attr("stroke-linejoin", "round");

  // observed
  const obsPts = p.obs.map((v: number | null, i: number) => ({ v, i })).filter((d: any) => d.v !== null);
  const s = 3.5;
  g.selectAll(".obs").data(obsPts).join("path").attr("class", "obs")
    .attr("d", (d: any) => {
      const cx = x(hourToDate(d.i));
      const cy = y(d.v);
      return `M${cx - s},${cy - s}L${cx + s},${cy + s}M${cx - s},${cy + s}L${cx + s},${cy - s}`;
    })
    .attr("stroke", RED).attr("stroke-width", 1.8).attr("fill", "none");

  // radar
  const rline = d3.line<number>()
    .x((_d, i) => x(hourToDate(i)))
    .y((d) => y(d));
  g.append("path").attr("d", rline(p.radar)).attr("fill", "none").attr("stroke", BLUE).attr("stroke-width", 1.5);
  g.selectAll(".rad").data(p.radar).join("circle").attr("class", "rad")
    .attr("cx", (_d: number, i: number) => x(hourToDate(i))).attr("cy", (d: number) => y(d))
    .attr("r", 5.2).attr("fill", "none").attr("stroke", BLUE).attr("stroke-width", 1.5);

  // (Kanto) tag
  g.append("text").attr("x", p.kx).attr("y", p.ky)
    .attr("font-family", "Lato, 'Open Sans', sans-serif").attr("font-weight", 600)
    .attr("font-size", 36).attr("fill", "#000")
    .text("(Kanto)");

  // legend
  const lw = 146, lh = 86;
  const lx = p.x1 - 13 - lw, ly = p.y0 + 118;
  const lg = g.append("g").attr("transform", `translate(${lx},${ly})`);
  lg.append("rect").attr("width", lw).attr("height", lh).attr("fill", "#fff").attr("stroke", AXIS).attr("stroke-width", 1);
  const rows = [17, 45, 72];
  lg.append("line").attr("x1", 7).attr("x2", 50).attr("y1", rows[0]).attr("y2", rows[0]).attr("stroke", GRAY).attr("stroke-width", 1.7);
  lg.append("path").attr("d", `M${28.5 - s},${rows[1] - s}L${28.5 + s},${rows[1] + s}M${28.5 - s},${rows[1] + s}L${28.5 + s},${rows[1] - s}`)
    .attr("stroke", RED).attr("stroke-width", 1.8);
  lg.append("line").attr("x1", 7).attr("x2", 50).attr("y1", rows[2]).attr("y2", rows[2]).attr("stroke", BLUE).attr("stroke-width", 1.5);
  lg.append("circle").attr("cx", 28.5).attr("cy", rows[2]).attr("r", 5.2).attr("fill", "#fff").attr("stroke", BLUE).attr("stroke-width", 1.5);
  lg.selectAll(".ltxt").data(["MEPS", "Observed", "Radar"]).join("text").attr("class", "ltxt")
    .attr("x", 54).attr("y", (_d: string, i: number) => rows[i]).attr("dy", "0.36em")
    .attr("font-family", FONT).attr("font-size", 20.5).attr("fill", "#000")
    .text((d: string) => d);
}

export default function App() {
  const ref = useRef<SVGSVGElement>(null);

  useEffect(() => {
    const svg = d3.select(ref.current);
    svg.selectAll("*").remove();
    svg.append("rect").attr("width", W).attr("height", H).attr("fill", "#fff");
    panels.forEach((p) => drawPanel(svg, p));
  }, []);

  return (
    <svg
      ref={ref}
      width={W}
      height={H}
      style={{ position: "absolute", left: 0, top: 0, display: "block" }}
    />
  );
}
